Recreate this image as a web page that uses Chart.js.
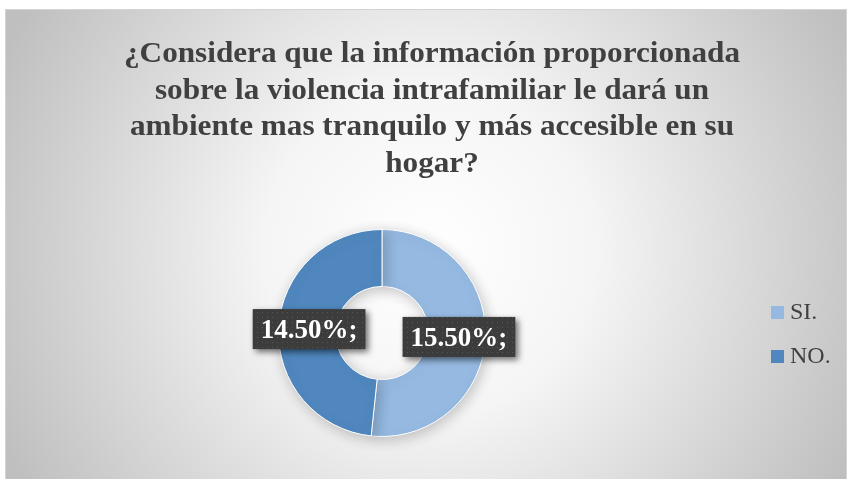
<!DOCTYPE html>
<html>
<head>
<meta charset="utf-8">
<script src="https://cdn.jsdelivr.net/npm/chart.js@4/dist/chart.umd.min.js"></script>
<style>
  html, body { margin: 0; padding: 0; background: #fff; }
  #wrap { width: 850px; height: 479px; }
</style>
</head>
<body>
<div id="wrap"><canvas id="chart" width="850" height="479"></canvas></div>
<script>
const categories = ['SI.', 'NO.'];
const values = [15.5, 14.5];
const sliceColors = ['#95b9e1', '#4f87be'];
const titleLines = [
    '¿Considera que la información proporcionada',
    'sobre la violencia intrafamiliar le dará un',
    'ambiente mas tranquilo y más accesible en su',
    'hogar?'
];

function formatValue(v) {
    return v.toFixed(2) + '%;';
}

function makeDotPattern(ctx) {
    const p = document.createElement('canvas');
    p.width = 5; p.height = 5;
    const c = p.getContext('2d');
    c.fillStyle = '#3c3c3c';
    c.fillRect(0, 0, 5, 5);
    c.fillStyle = '#565656';
    c.fillRect(2, 2, 1, 1);
    return ctx.createPattern(p, 'repeat');
}

const backgroundPlugin = {
    id: 'bg',
    beforeDraw(chart) {
        const ctx = chart.ctx;
        ctx.save();
        ctx.fillStyle = '#ffffff';
        ctx.fillRect(0, 0, chart.width, chart.height);
        const g = ctx.createRadialGradient(430, 250, 0, 430, 250, 470);
        g.addColorStop(0, '#ffffff');
        g.addColorStop(0.35, '#f5f5f5');
        g.addColorStop(1, '#bfbfbf');
        ctx.fillStyle = g;
        ctx.fillRect(6, 10, 840, 469);
        ctx.strokeStyle = '#d4d4d4';
        ctx.lineWidth = 1;
        ctx.strokeRect(5.5, 9.5, 841, 470);
        ctx.restore();
    }
};

const titlePlugin = {
    id: 'serifTitle',
    afterDraw(chart) {
        const ctx = chart.ctx;
        ctx.save();
        ctx.font = 'bold 30px "Liberation Serif", "Times New Roman", serif';
        ctx.fillStyle = '#404040';
        ctx.textAlign = 'center';
        ctx.textBaseline = 'alphabetic';
        // the original title is a little wider than the font gives
        ctx.translate(432, 0);
        ctx.scale(1.04, 1);
        titleLines.forEach((line, i) => {
            ctx.fillText(line, 0, 62 + i * 36.7);
        });
        ctx.restore();
    }
};

const legendPlugin = {
    id: 'sideLegend',
    afterDraw(chart) {
        const ctx = chart.ctx;
        ctx.save();
        ctx.font = '24px "Liberation Serif", "Times New Roman", serif';
        ctx.textBaseline = 'middle';
        ctx.textAlign = 'left';
        categories.forEach((name, i) => {
            const y = 312 + i * 44;
            ctx.fillStyle = sliceColors[i];
            ctx.fillRect(771, y - 6, 13, 13);
            ctx.fillStyle = '#404040';
            ctx.fillText(name, 790, y + 1);
        });
        ctx.restore();
    }
};

const shadowPlugin = {
    id: 'arcShadow',
    beforeDatasetsDraw(chart) {
        const ctx = chart.ctx;
        ctx.save();
        ctx.shadowColor = 'rgba(0,0,0,0.22)';
        ctx.shadowBlur = 14;
        ctx.shadowOffsetX = 2;
        ctx.shadowOffsetY = 3;
    },
    afterDatasetsDraw(chart) {
        chart.ctx.restore();
    }
};

const labelPlugin = {
    id: 'boxLabels',
    afterDatasetsDraw(chart) {
        const ctx = chart.ctx;
        const meta = chart.getDatasetMeta(0);
        const pattern = makeDotPattern(ctx);
        ctx.save();
        ctx.font = 'bold 27px "Liberation Serif", "Times New Roman", serif';
        meta.data.forEach((arc, i) => {
            const pos = arc.tooltipPosition();
            const text = formatValue(values[i]);
            const w = ctx.measureText(text).width + 16;
            const h = 40;
            const x = pos.x - w / 2 + 2;
            const y = pos.y - h / 2;
            ctx.save();
            ctx.shadowColor = 'rgba(0,0,0,0.55)';
            ctx.shadowBlur = 6;
            ctx.shadowOffsetX = 3;
            ctx.shadowOffsetY = 3;
            ctx.fillStyle = pattern;
            ctx.fillRect(x, y, w, h);
            ctx.restore();
            ctx.fillStyle = '#ffffff';
            ctx.textAlign = 'center';
            ctx.textBaseline = 'middle';
            ctx.fillText(text, x + w / 2, y + h / 2 + 2);
        });
        ctx.restore();
    }
};

new Chart(document.getElementById('chart'), {
    type: 'doughnut',
    data: {
        labels: categories,
        datasets: [{
            data: values,
            backgroundColor: sliceColors,
            borderColor: '#ffffff',
            borderWidth: 1,
            hoverOffset: 0
        }]
    },
    options: {
        responsive: false,
        animation: false,
        cutout: '45%',
        layout: { padding: { top: 229, bottom: 42, left: 200, right: 286 } },
        plugins: {
            legend: { display: false },
            title: { display: false },
            tooltip: { enabled: false }
        }
    },
    plugins: [backgroundPlugin, shadowPlugin, labelPlugin, titlePlugin, legendPlugin]
});
</script>
</body>
</html>
